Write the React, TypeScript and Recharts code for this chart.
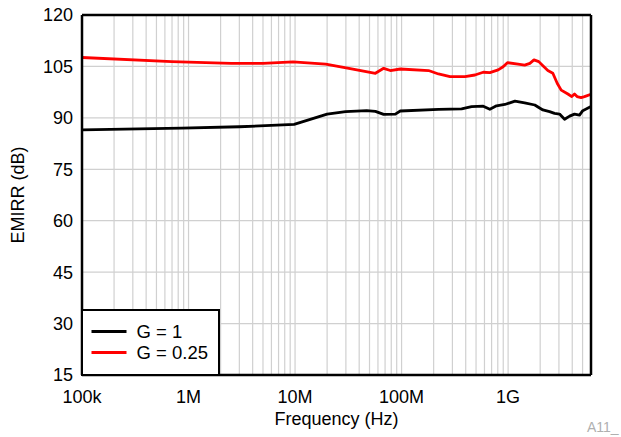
import React from 'react';
import { LineChart, Line, XAxis, YAxis, CartesianGrid, ReferenceLine, Legend } from 'recharts';

// ---- data ----
const g1Freq = [1e5, 8.6e5, 3.0e6, 9.8e6, 2.0e7, 2.98e7, 4.7e7, 5.68e7, 6.79e7, 8.74e7, 9.72e7, 2.22e8, 3.66e8, 4.54e8, 5.84e8, 6.74e8, 7.78e8, 9.31e8, 1.16e9, 1.43e9, 1.78e9, 2.12e9, 2.45e9, 2.73e9, 3.04e9, 3.39e9, 3.78e9, 4.2e9, 4.68e9, 5.02e9, 6e9];
const g1Val = [86.5, 87.0, 87.4, 88.1, 91.1, 91.8, 92.1, 91.9, 91.0, 91.1, 92.0, 92.5, 92.6, 93.3, 93.4, 92.5, 93.5, 93.9, 94.9, 94.4, 93.75, 92.3, 91.8, 91.3, 91.1, 89.6, 90.5, 91.1, 90.8, 92.1, 93.3];

const g025Freq = [1e5, 6.94e5, 2.52e6, 4.99e6, 9.58e6, 1.94e7, 3.2e7, 5.68e7, 6.79e7, 7.84e7, 9.72e7, 1.79e8, 2.22e8, 2.85e8, 3.94e8, 4.88e8, 5.84e8, 6.74e8, 8.07e8, 8.98e8, 9.85e8, 1.24e9, 1.43e9, 1.6e9, 1.75e9, 1.94e9, 2.17e9, 2.36e9, 2.63e9, 2.89e9, 3.15e9, 3.64e9, 3.96e9, 4.2e9, 4.44e9, 4.84e9, 5.21e9, 6e9];
const g025Val = [107.6, 106.4, 105.9, 105.9, 106.3, 105.7, 104.45, 103.0, 104.45, 103.8, 104.25, 103.8, 102.8, 102.0, 102.0, 102.5, 103.3, 103.2, 104.0, 104.9, 106.1, 105.7, 105.4, 105.9, 106.9, 106.4, 104.9, 103.8, 103.0, 100.1, 98.1, 96.95, 96.2, 96.95, 96.2, 95.9, 96.2, 96.9];

const seriesNames = ['G = 1', 'G = 0.25'];
const seriesColors = ['#000000', '#ff0000'];

const decadeTicks = [1e5, 1e6, 1e7, 1e8, 1e9];
const decadeLabels = ['100k', '1M', '10M', '100M', '1G'];
const gridMultipliers = [1, 2, 3, 4, 5, 6, 7, 8, 9];
const xMax = 6e9;
const yTicks = [15, 30, 45, 60, 75, 90, 105, 120];

const xGridTicks: number[] = [];
decadeTicks.forEach((d) => {
  gridMultipliers.forEach((m) => {
    const v = d * m;
    if (v <= xMax) xGridTicks.push(v);
  });
});

const g1Data = g1Freq.map((f, i) => ({ f, v: g1Val[i] }));
const g025Data = g025Freq.map((f, i) => ({ f, v: g025Val[i] }));

const FONT = "'Liberation Sans', Arial, Helvetica, sans-serif";
const FS = 18;

const fmtX = (v: number) => {
  const idx = decadeTicks.findIndex((d) => Math.abs(d - v) / d < 1e-6);
  return idx >= 0 ? decadeLabels[idx] : '';
};

const LegendBox = () => (
  <svg width={134} height={62} style={{ display: 'block' }}>
    {seriesNames.map((n, i) => (
      <g key={n}>
        <line x1={8.5} x2={43.5} y1={20.5 + i * 21} y2={20.5 + i * 21} stroke={seriesColors[i]} strokeWidth={2.8} />
        <text x={53.5} y={20.5 + i * 21} dominantBaseline="central" fontSize={18.5} fontFamily={FONT} fill="#000">
          {n}
        </text>
      </g>
    ))}
  </svg>
);

export default function App() {
  return (
    <div style={{ position: 'absolute', left: 0, top: 0, width: 621, height: 437, background: '#fff', fontFamily: FONT }}>
      <LineChart width={621} height={437} margin={{ top: 15, right: 30, bottom: 0, left: 0 }} style={{ fontFamily: FONT }}>
        <CartesianGrid stroke="#d0d0d0" strokeWidth={1.2} />
        <XAxis
          dataKey="f"
          type="number"
          scale="log"
          domain={[1e5, xMax]}
          allowDataOverflow
          ticks={xGridTicks}
          interval={0}
          tickFormatter={fmtX}
          tickLine={false}
          tickSize={6}
          tickMargin={9}
          height={62}
          axisLine={{ stroke: '#000', strokeWidth: 2.5 }}
          tick={{ fill: '#000', fontSize: FS, fontFamily: FONT }}
          label={{ value: 'Frequency (Hz)', position: 'insideBottom', offset: 12, fill: '#000', fontSize: FS, fontFamily: FONT }}
        />
        <YAxis
          type="number"
          domain={[15, 120]}
          ticks={yTicks}
          interval={0}
          tickLine={false}
          tickSize={6}
          tickMargin={3}
          width={82}
          axisLine={{ stroke: '#000', strokeWidth: 2.5 }}
          tick={{ fill: '#000', fontSize: FS, fontFamily: FONT }}
          label={{ value: 'EMIRR (dB)', angle: -90, position: 'insideLeft', offset: 18, fill: '#000', fontSize: FS, fontFamily: FONT, style: { textAnchor: 'middle' } }}
        />
        <Line data={g1Data} dataKey="v" name={seriesNames[0]} stroke={seriesColors[0]} strokeWidth={2.8} dot={false} isAnimationActive={false} strokeLinejoin="round" />
        <Line data={g025Data} dataKey="v" name={seriesNames[1]} stroke={seriesColors[1]} strokeWidth={2.8} dot={false} isAnimationActive={false} strokeLinejoin="round" />
        <ReferenceLine y={120} stroke="#000" strokeWidth={2.5} />
        <ReferenceLine x={xMax} stroke="#000" strokeWidth={2.5} />
        <Legend
          layout="vertical"
          align="center"
          verticalAlign="middle"
          content={() => <LegendBox />}
          wrapperStyle={{ position: 'absolute', left: 81, top: 309, width: 139, height: 67, border: '2.5px solid #000', boxSizing: 'border-box', background: '#fff', margin: 0, padding: 0 }}
        />
      </LineChart>
      <div style={{ position: 'absolute', left: 587, top: 418, fontSize: 14, color: '#b0b0b0', fontFamily: FONT, lineHeight: '18px' }}>A11_</div>
    </div>
  );
}
